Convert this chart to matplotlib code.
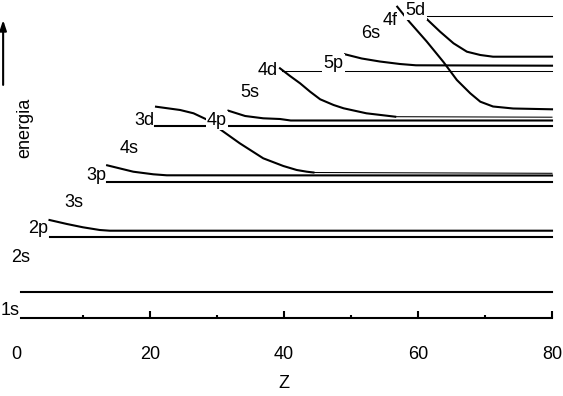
import matplotlib.pyplot as plt

plt.rcParams['font.family'] = ['Liberation Sans', 'DejaVu Sans']

# energies in arbitrary units, Z = atomic number

# flat levels: where they start and their energy
level_names = ['1s', '2s', '2p', '3p', '3d', '4d', '5d']
level_start = [0.75, 0.75, 5.0, 13.6, 20.75, 39.7, 61.3]
level_energy = [0.0, 2.63, 8.07, 13.63, 19.25, 24.67, 30.2]
thin_levels = ['4d', '5d']

# curves, named after the label they start at
curve_2p_z = [5.0, 7.6, 10.0, 12.5, 14.0, 80]
curve_2p_e = [9.8, 9.4, 9.07, 8.8, 8.73, 8.73]

curve_3p_z = [13.6, 17.5, 20.5, 22.5, 80]
curve_3p_e = [15.27, 14.63, 14.37, 14.27, 14.25]

curve_3d_z = [20.9, 24.5, 26.5, 28.4, 30.4, 33.4, 36.9, 39.9, 41.9, 43.4, 44.4, 80]
curve_3d_e = [21.13, 20.8, 20.47, 19.87, 18.9, 17.47, 15.97, 15.2, 14.8, 14.63, 14.55, 14.47]

curve_4p_z = [31.7, 34.2, 36.9, 39.4, 41.0, 80]
curve_4p_e = [20.73, 20.2, 19.97, 19.9, 19.75, 19.75]

curve_4d_z = [39.4, 40.9, 42.4, 43.9, 45.4, 47.4, 48.9, 52.3, 56.6, 80]
curve_4d_e = [24.97, 24.2, 23.47, 22.63, 21.87, 21.3, 20.97, 20.47, 20.13, 20.08]

curve_5p_z = [49.1, 51.6, 54.3, 57.3, 59.7, 80]
curve_5p_e = [26.37, 25.95, 25.65, 25.4, 25.27, 25.23]

curve_4f_z = [56.9, 58.1, 58.7, 61.3, 63.8, 65.8, 67.8, 69.3, 71.2, 74.2, 80]
curve_4f_e = [31.13, 30.13, 29.63, 27.65, 25.6, 23.8, 22.47, 21.63, 21.15, 20.95, 20.87]

curve_5d_z = [61.3, 63.3, 65.3, 67.3, 69.3, 71.2, 80]
curve_5d_e = [29.9, 28.63, 27.47, 26.63, 26.3, 26.13, 26.13]

curves = {
    '2p': (curve_2p_z, curve_2p_e),
    '3p': (curve_3p_z, curve_3p_e),
    '3d': (curve_3d_z, curve_3d_e),
    '4p': (curve_4p_z, curve_4p_e),
    '4d': (curve_4d_z, curve_4d_e),
    '5p': (curve_5p_z, curve_5p_e),
    '4f': (curve_4f_z, curve_4f_e),
    '5d': (curve_5d_z, curve_5d_e),
}
# where the curve flattens into a thin line
thin_tail = {'3d': 44.4, '4d': 56.6}

# orbital labels (centre Z, baseline energy)
labels = ['1s', '2s', '2p', '3s', '3p', '4s', '3d', '4p', '5s', '4d', '5p', '6s', '4f', '5d']
label_z = [-0.9, 0.72, 3.24, 8.63, 11.94, 16.82, 19.2, 30.0, 34.97, 37.54, 47.36, 52.95, 55.82, 59.67]
label_e = [0.3, 5.63, 8.53, 11.07, 13.8, 16.53, 19.3, 19.3, 22.13, 24.3, 24.97, 27.95, 29.3, 30.3]
boxed = ['4p', '5p', '5d']

thick = 1.5
thin = 0.75

fig = plt.figure(figsize=(5.63, 3.96), dpi=100)
ax = fig.add_axes([16/563, 78/396, 536/563, 318/396])

for name, z0, e in zip(level_names, level_start, level_energy):
    lw = thin if name in thin_levels else thick
    ax.plot([z0, 80], [e, e], color='black', lw=lw, clip_on=False, zorder=2)

for name, (z, e) in curves.items():
    if name in thin_tail:
        cut = z.index(thin_tail[name])
        ax.plot(z[:cut + 1], e[:cut + 1], color='black', lw=thick, clip_on=False, zorder=2)
        ax.plot(z[cut:], e[cut:], color='black', lw=thin, clip_on=False, zorder=2)
    else:
        ax.plot(z, e, color='black', lw=thick, clip_on=False, zorder=2)

for lab, z, e in zip(labels, label_z, label_e):
    box = None
    if lab in boxed:
        box = dict(facecolor='white', edgecolor='none', pad=1)
    ax.text(z, e, lab, fontsize=13, ha='center', va='baseline', bbox=box, zorder=5)

ax.set_xlim(0, 80)
ax.set_ylim(0, 31.8)
for s in ax.spines.values():
    s.set_visible(False)
ax.set_yticks([])
ax.set_xticks([0, 20, 40, 60, 80])
ax.set_xticks([10, 30, 50, 70], minor=True)
ax.tick_params(axis='x', which='major', direction='in', length=5, width=1.5, pad=20, labelsize=13)
ax.tick_params(axis='x', which='minor', direction='in', length=2.5, width=1.5)
ax.xaxis.get_major_ticks()[0].tick1line.set_visible(False)
ax.set_xlabel('Z', fontsize=13, labelpad=9)

ax.set_ylabel('energia', fontsize=13, va='center')
ax.yaxis.set_label_coords(0.0168, 0.599)
ax.annotate('', xy=(-0.024, 0.937), xytext=(-0.024, 0.733), xycoords='axes fraction',
            arrowprops=dict(arrowstyle='-|>,head_length=0.6,head_width=0.2', lw=1.5,
                            color='black', mutation_scale=10, shrinkA=0, shrinkB=0),
            annotation_clip=False)

fig.savefig('out.png', dpi=100)
